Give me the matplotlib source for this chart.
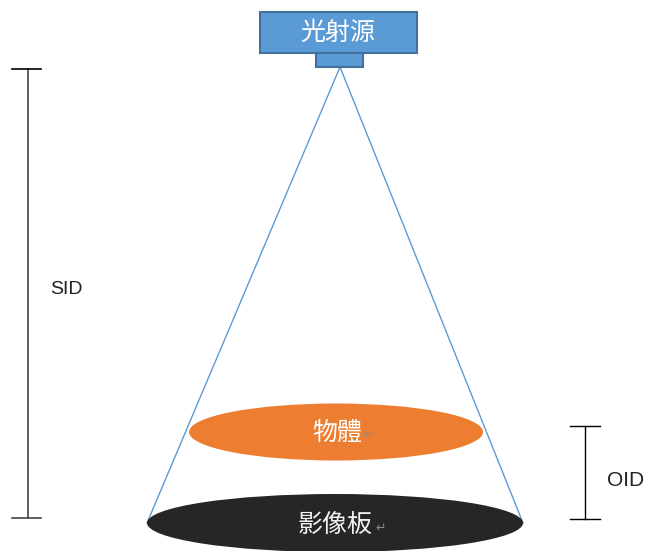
import matplotlib.pyplot as plt
from matplotlib.patches import Rectangle, Ellipse

plt.rcParams['font.family'] = ['Noto Sans CJK TC', 'DejaVu Sans']

# labels
source_label = '光射源'
object_label = '物體'
detector_label = '影像板'
dist_labels = ['SID', 'OID']

# geometry (pixel units of the picture)
apex = (340, 67)
det_center = (335, 523)
det_size = (376, 58)
obj_center = (336, 432)
obj_size = (294, 57)

fig = plt.figure(figsize=(6.49, 5.51), dpi=100)
ax = fig.add_axes([0, 0, 1, 1])
ax.set_xlim(0, 649)
ax.set_ylim(551, 0)
ax.axis('off')

blue = '#5B9BD5'
edge = '#41719C'

# source box
ax.add_patch(Rectangle((260, 12), 157, 41, facecolor=blue, edgecolor=edge, lw=1.5, zorder=3))
ax.add_patch(Rectangle((316, 53), 47, 14, facecolor=blue, edgecolor=edge, lw=1.5, zorder=3))
ax.text(338, 33, source_label, color='white', fontsize=18, fontweight='medium',
        ha='center', va='center', zorder=4)

# cone lines
left = det_center[0] - det_size[0] / 2
right = det_center[0] + det_size[0] / 2
ax.plot([apex[0], left], [apex[1], det_center[1]], color=blue, lw=1, zorder=1)
ax.plot([apex[0], right], [apex[1], det_center[1]], color=blue, lw=1, zorder=1)

# object and detector
ax.add_patch(Ellipse(obj_center, obj_size[0], obj_size[1], facecolor='#ED7D31', edgecolor='none', zorder=2))
ax.text(337, 433, object_label, color='white', fontsize=18, fontweight='medium',
        ha='center', va='center', zorder=4)
ax.text(369, 435, '↵', color='#8a8a8a', fontsize=9, ha='center', va='center', zorder=4)

ax.add_patch(Ellipse(det_center, det_size[0], det_size[1], facecolor='#262626', edgecolor='none', zorder=2))
ax.text(335, 526, detector_label, color='#f2f2f2', fontsize=18, fontweight='medium',
        ha='center', va='center', zorder=4)
ax.text(381, 528, '↵', color='#8a8a8a', fontsize=9, ha='center', va='center', zorder=4)

# SID bar
ax.plot([28, 28], [69, 518], color='#444444', lw=1.2)
ax.plot([12, 41], [69, 69], color='black', lw=1.2)
ax.plot([12, 41], [518, 518], color='#444444', lw=1.2)
ax.text(66, 290, dist_labels[0], color='#222222', fontsize=14, ha='center', va='center',
        family=['Liberation Sans', 'DejaVu Sans'])

# OID bar
ax.plot([585, 585], [426, 519], color='black', lw=1.0)
ax.plot([570, 600], [426, 426], color='black', lw=1.0)
ax.plot([570, 600], [519, 519], color='black', lw=1.0)
ax.text(626, 480, dist_labels[1], color='#222222', fontsize=15, ha='center', va='center',
        family=['Liberation Sans', 'DejaVu Sans'])

fig.savefig('out.png', dpi=100)
